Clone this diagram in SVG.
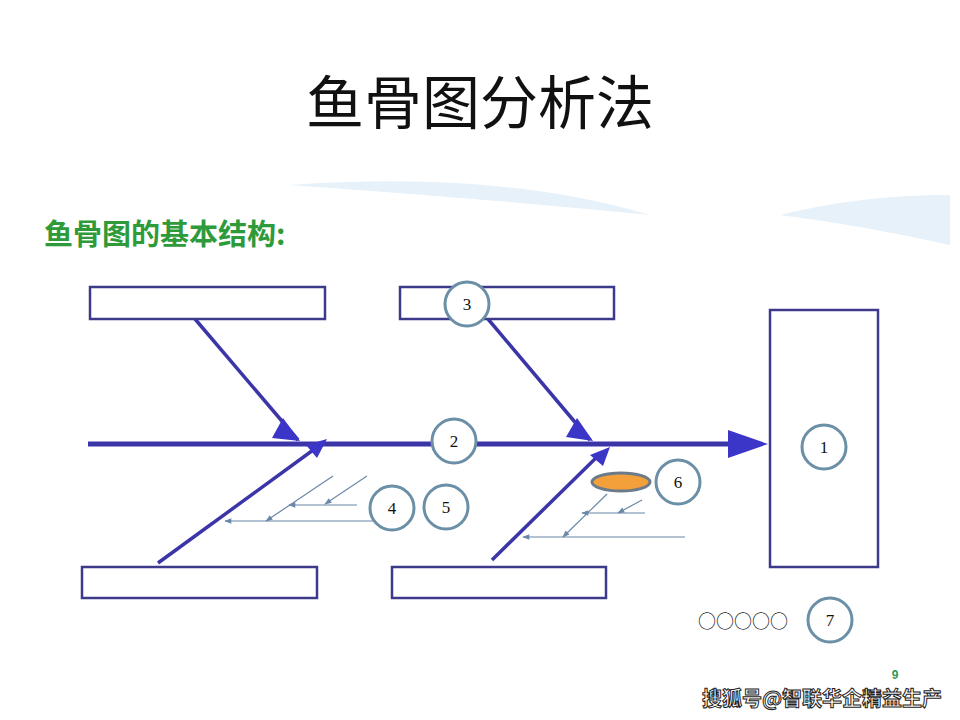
<svg xmlns="http://www.w3.org/2000/svg" width="960" height="720" viewBox="0 0 960 720">
<style>
.box{fill:#fff;stroke:#3d3a8c;stroke-width:2.5}
.bone{stroke:#3b35a8;stroke-width:3.5;fill:none}
.thin{stroke:#6a88a8;stroke-width:1.2;fill:none}
.c{fill:#fff;stroke:#6b8fa6;stroke-width:3}
.n{font-family:"Liberation Serif",serif;font-size:17px;text-anchor:middle;fill:#111}
</style>
<defs>
<marker id="sm" viewBox="0 0 10 10" refX="9" refY="5" markerWidth="9" markerHeight="7" markerUnits="userSpaceOnUse" orient="auto"><path d="M0,1L10,5L0,9z" fill="#6a88a8"/></marker>
</defs>
<rect width="960" height="720" fill="#fff"/>
<path d="M290,185 Q500,170 650,215 Q500,200 290,185z" fill="#e6f1fa"/>
<path d="M780,215 Q860,195 950,195 L950,245 Q860,225 780,215z" fill="#e6f1fa"/>
<text x="480" y="124" font-family="Noto Sans CJK SC,sans-serif" font-size="58" text-anchor="middle" fill="#111">鱼骨图分析法</text>
<text x="44" y="245" font-family="Noto Sans CJK SC,sans-serif" font-size="29" font-weight="bold" fill="#2e9a3a">鱼骨图的基本结构:</text>
<g id="connectors">
<line x1="88" y1="444" x2="735" y2="444" stroke="#3b35a8" stroke-width="5"/>
<path d="M728,430L768,444L728,458z" fill="#3b35c8"/>
<line class="bone" x1="195" y1="319" x2="298" y2="440"/>
<path d="M283,418L300,441L272,438z" fill="#3b35c8"/>
<line class="bone" x1="488" y1="319" x2="590" y2="440"/>
<path d="M577,418L593,441L566,437z" fill="#3b35c8"/>
<line class="bone" x1="158" y1="563" x2="320" y2="445"/>
<path d="M327,439L317,458L306,445z" fill="#3b35c8"/>
<line class="bone" x1="492" y1="560" x2="602" y2="452"/>
<path d="M610,447L603,466L590,455z" fill="#3b35c8"/>
<line class="thin" x1="333" y1="476" x2="266" y2="521" marker-end="url(#sm)"/>
<line class="thin" x1="367" y1="476" x2="325" y2="504" marker-end="url(#sm)"/>
<line class="thin" x1="357" y1="505" x2="289" y2="505" marker-end="url(#sm)"/>
<line class="thin" x1="373" y1="521" x2="225" y2="521" marker-end="url(#sm)"/>
<line class="thin" x1="607" y1="494" x2="563" y2="537" marker-end="url(#sm)"/>
<line class="thin" x1="642" y1="500" x2="618" y2="513" marker-end="url(#sm)"/>
<line class="thin" x1="645" y1="513" x2="582" y2="513" marker-end="url(#sm)"/>
<line class="thin" x1="685" y1="537" x2="523" y2="537" marker-end="url(#sm)"/>
</g>
<g id="box-tl"><rect class="box" x="90" y="287" width="235" height="32"/></g>
<g id="box-tm"><rect class="box" x="400" y="287" width="214" height="32"/></g>
<g id="box-bl"><rect class="box" x="82" y="567" width="235" height="31"/></g>
<g id="box-bm"><rect class="box" x="392" y="567" width="214" height="31"/></g>
<g id="head"><rect class="box" x="770" y="310" width="108" height="257"/></g>
<g id="ellipse"><ellipse cx="621" cy="482" rx="29" ry="9" fill="#f4a03a" stroke="#6b7b8a" stroke-width="3"/></g>
<g id="c1"><circle class="c" cx="824" cy="447" r="22"/><text class="n" x="824" y="453">1</text></g>
<g id="c2"><circle class="c" cx="454" cy="441" r="22"/><text class="n" x="454" y="447">2</text></g>
<g id="c3"><circle class="c" cx="467" cy="304" r="22"/><text class="n" x="467" y="310">3</text></g>
<g id="c4"><circle class="c" cx="392" cy="508" r="22"/><text class="n" x="392" y="514">4</text></g>
<g id="c5"><circle class="c" cx="446" cy="507" r="22"/><text class="n" x="446" y="513">5</text></g>
<g id="c6"><circle class="c" cx="678" cy="482" r="22"/><text class="n" x="678" y="488">6</text></g>
<g id="c7"><circle class="c" cx="830" cy="620" r="22"/><text class="n" x="830" y="626">7</text></g>
<text x="743" y="628" font-family="Noto Sans CJK SC,sans-serif" font-size="18" text-anchor="middle" fill="#222">○○○○○</text>
<text x="895" y="679" font-family="Liberation Sans,sans-serif" font-size="12" font-weight="bold" text-anchor="middle" fill="#2e9a5a">9</text>
<text x="822" y="706" font-family="Noto Sans CJK SC,sans-serif" font-size="20" font-weight="bold" text-anchor="middle" fill="#fff" stroke="#222" stroke-width="1">搜狐号@智联华企精益生产</text>
</svg>
